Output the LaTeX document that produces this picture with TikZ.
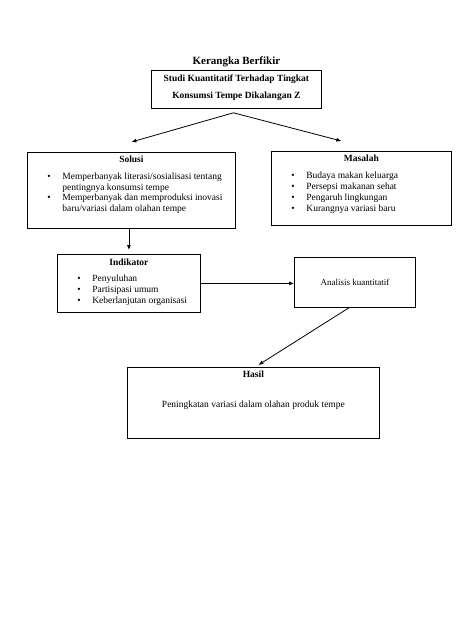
\documentclass[tikz,border=0pt]{standalone}
\usepackage{fontspec}
\setmainfont{Liberation Serif}
\usetikzlibrary{arrows.meta, positioning}

\newcommand{\butir}[2][150pt]{\par\hspace*{20pt}\makebox[15pt][l]{\textbullet}\parbox[t]{#1}{#2}}

\begin{document}
\begin{tikzpicture}[
    x=1pt, y=-1pt,
    every node/.style={font=\fontsize{9.5}{11}\selectfont},
    kotak/.style={
        rectangle,
        draw=black,
        line width=0.8pt,
        inner sep=0pt,
        anchor=north west
    },
    panah/.style={-{Latex[length=5pt,width=4pt]}, line width=0.8pt, black}
]

\fill[white] (0,0) rectangle (474,632);

\node[kotak] (studi) at (151,70) {\begin{minipage}[t][38pt][t]{170pt}
    \centering\bfseries\rule{0pt}{11.5pt}Studi Kuantitatif Terhadap Tingkat\\[6pt]
    Konsumsi Tempe Dikalangan Z\end{minipage}};
\node[font=\fontsize{11}{13}\selectfont\bfseries, above=0pt of studi] (judul)
    {Kerangka Berfikir};

\node[kotak] (solusi) at (27,152) {\begin{minipage}[t][76pt][t]{208pt}
    {\centering\rule{0pt}{10.5pt}\textbf{Solusi}\par}\vspace{6pt}
    \butir[170pt]{Memperbanyak literasi/sosialisasi tentang\\pentingnya konsumsi tempe}
    \butir[170pt]{Memperbanyak dan memproduksi inovasi\\baru/variasi dalam olahan tempe}
    \end{minipage}};
\node[kotak] (masalah) at (271,151) {\begin{minipage}[t][74pt][t]{180pt}
    {\centering\rule{0pt}{10.5pt}\textbf{Masalah}\par}\vspace{6pt}
    \butir{Budaya makan keluarga}
    \butir{Persepsi makanan sehat}
    \butir{Pengaruh lingkungan}
    \butir{Kurangnya variasi baru}
    \end{minipage}};
\node[kotak] (indikator) at (57,254) {\begin{minipage}[t][58pt][t]{143pt}
    {\centering\rule{0pt}{11pt}\textbf{Indikator}\par}\vspace{5pt}
    \butir[105pt]{Penyuluhan}
    \butir[105pt]{Partisipasi umum}
    \butir[105pt]{Keberlanjutan organisasi}
    \end{minipage}};
\node[kotak, minimum width=121pt, minimum height=50pt,
    font=\fontsize{9}{11}\selectfont] (analisis) at (294,257) {Analisis kuantitatif};
\node[kotak] (hasil) at (127,367) {\begin{minipage}[t][71pt][t]{252pt}
    \centering\rule{0pt}{10.5pt}\textbf{Hasil}\\[19pt]
    Peningkatan variasi dalam olahan produk tempe\end{minipage}};

\coordinate (cabang) at ([xshift=-3pt,yshift=-4pt]studi.south);
\draw[panah] (cabang) -- ([yshift=10pt]solusi.north);
\draw[panah] (cabang) -- ([xshift=-20pt,yshift=10pt]masalah.north);
\draw[panah] (solusi.south -| indikator.north) -- ([yshift=4pt]indikator.north);
\draw[panah] (indikator.east) -- (indikator.east -| analisis.west);
\draw[panah] ([xshift=-6pt]analisis.south) -- ([xshift=5pt,yshift=2pt]hasil.north);

\end{tikzpicture}
\end{document}
